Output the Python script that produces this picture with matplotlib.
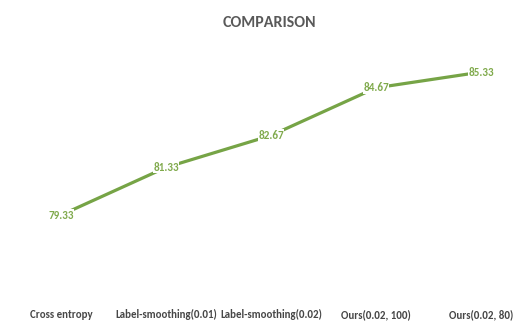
import matplotlib
matplotlib.use("Agg")
import matplotlib.pyplot as plt

categories = ["Cross entropy", "Label-smoothing(0.01)", "Label-smoothing(0.02)",
              "Ours(0.02, 100)", "Ours(0.02, 80)"]
accuracy = [79.33, 81.33, 82.67, 84.67, 85.33]
title = "COMPARISON"

plt.rcParams["font.family"] = ["Carlito", "DejaVu Sans"]

line_color = "#76A446"
label_color = "#80AA4C"

fig = plt.figure(figsize=(5.31, 3.22), dpi=100)
ax = fig.add_axes([0, 0.0857, 1, 0.74])
x = list(range(len(categories)))
ax.plot(x, accuracy, color=line_color, lw=2.3, solid_capstyle="round", zorder=2)
for xi, v in zip(x, accuracy):
    ax.text(xi, v, f"{v:.2f}", ha="center", va="center", fontsize=8,
            fontweight="bold", color=label_color, zorder=3,
            bbox=dict(boxstyle="square,pad=0.05", fc="white", ec="none"))

ax.set_xlim(-0.581, 4.476)
ax.set_ylim(76, 86)
ax.set_xticks(x)
ax.set_xticklabels(categories, fontsize=7.8, fontweight="bold", color="#474747")
ax.tick_params(axis="x", length=0, pad=10.5)
ax.set_yticks([])
for s in ax.spines.values():
    s.set_visible(False)

fig.text(0.508, 0.93, title, ha="center", va="center", fontsize=11.5,
         fontweight="bold", color="#595959")
fig.savefig("out.png", dpi=100)
